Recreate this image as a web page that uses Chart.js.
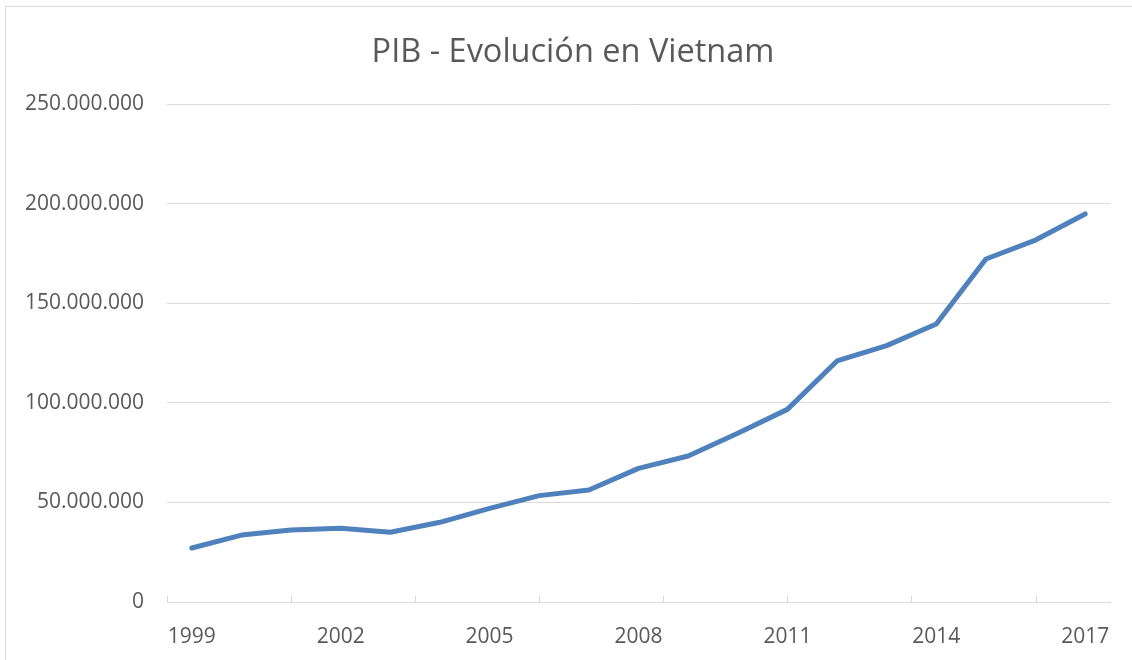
<!DOCTYPE html>
<html>
<head>
<meta charset="utf-8">
<script src="https://cdn.jsdelivr.net/npm/chart.js@4"></script>
<style>
  html, body { margin: 0; padding: 0; background: #ffffff; }
  #wrap { width: 1132px; height: 660px; position: relative; overflow: hidden; }
  #title {
    position: absolute; left: 0; top: 29.5px; width: 1146px;
    text-align: center; white-space: nowrap;
    font-family: 'Open Sans', 'Liberation Sans', sans-serif;
    font-size: 32.5px; line-height: 39px; color: #595959;
  }
  canvas { position: absolute; left: 0; top: 0; }
</style>
</head>
<body>
<div id="wrap">
  <canvas id="c" width="1132" height="660"></canvas>
  <div id="title"></div>
</div>
<script>
const titleText = "PIB - Evolución en Vietnam";
const years = ["1999","2000","2001","2002","2003","2004","2005","2006","2007","2008",
               "2009","2010","2011","2012","2013","2014","2015","2016","2017"];
const gdp = [27100000, 33600000, 36100000, 37000000, 35000000, 40000000, 47000000,
             53400000, 56200000, 67100000, 73300000, 84700000, 96700000, 121000000,
             128700000, 139600000, 172200000, 181700000, 194800000];
const yMin = 0;
const yMax = 250000000;
const yStep = 50000000;
const labelEvery = 3;

document.getElementById("title").textContent = titleText;

function fmtDots(v) {
  return String(Math.round(v)).replace(/\B(?=(\d{3})+(?!\d))/g, ".");
}

const textColor = "#595959";
const gridColor = "#d9d9d9";
const fontFamily = "'Open Sans', 'Liberation Sans', sans-serif";

const framePlugin = {
  id: "frame",
  beforeDraw(chart) {
    const ctx = chart.ctx;
    ctx.save();
    ctx.fillStyle = "#ffffff";
    ctx.fillRect(0, 0, chart.width, chart.height);
    ctx.strokeStyle = gridColor;
    ctx.lineWidth = 1;
    ctx.strokeRect(5.5, 6.5, chart.width + 20, chart.height + 20);
    ctx.restore();
  },
  afterDraw(chart) {
    // Excel-style tick marks on the category axis (every 2.5 categories)
    const xs = chart.scales.x;
    const ctx = chart.ctx;
    const n = chart.data.labels.length;
    const cw = (xs.right - xs.left) / n;
    const step = cw * 2.5;
    ctx.save();
    ctx.strokeStyle = gridColor;
    ctx.lineWidth = 1;
    ctx.beginPath();
    for (let p = xs.left; p <= xs.right + 0.5; p += step) {
      const px = Math.round(p) + 0.5;
      ctx.moveTo(px, xs.top - 6);
      ctx.lineTo(px, xs.top);
    }
    ctx.stroke();
    ctx.restore();
  }
};

new Chart(document.getElementById("c"), {
  type: "line",
  data: {
    labels: years,
    datasets: [{
      label: "PIB",
      data: gdp,
      borderColor: "#4f81bd",
      backgroundColor: "#4f81bd",
      borderWidth: 5,
      pointRadius: 0,
      pointHoverRadius: 0,
      tension: 0,
      borderCapStyle: "round",
      borderJoinStyle: "round",
      fill: false
    }]
  },
  options: {
    responsive: false,
    animation: false,
    devicePixelRatio: 1,
    layout: { padding: { left: 0, right: 22, top: 104, bottom: 0 } },
    plugins: {
      legend: { display: false },
      tooltip: { enabled: false },
      title: { display: false }
    },
    scales: {
      x: {
        type: "category",
        offset: true,
        grid: { display: false, drawTicks: false },
        border: { display: true, color: gridColor, width: 1 },
        ticks: {
          autoSkip: false,
          maxRotation: 0,
          minRotation: 0,
          padding: 22,
          color: textColor,
          font: { family: fontFamily, size: 21 },
          callback: function(value, index) {
            return index % labelEvery === 0 ? this.getLabelForValue(value) : "";
          }
        },
        afterFit(scale) { scale.height = 58; }
      },
      y: {
        min: yMin,
        max: yMax,
        grid: { color: gridColor, lineWidth: 1, drawTicks: false },
        border: { display: false },
        ticks: {
          stepSize: yStep,
          padding: 23,
          color: textColor,
          font: { family: fontFamily, size: 21 },
          callback: (v) => fmtDots(v)
        },
        afterFit(scale) { scale.width = 167; }
      }
    }
  },
  plugins: [framePlugin]
});
</script>
</body>
</html>
